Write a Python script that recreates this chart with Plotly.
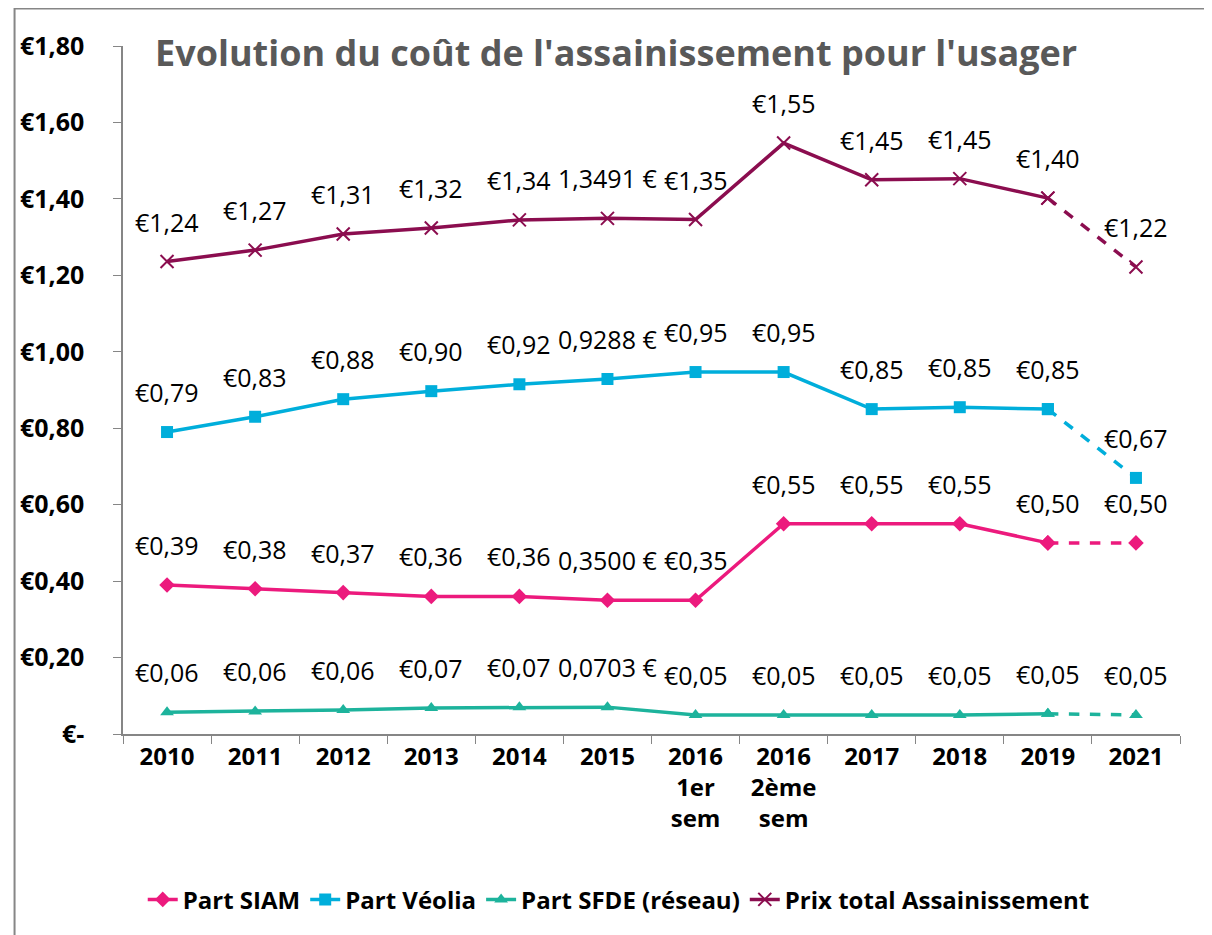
import plotly.graph_objects as go

categories = ["2010", "2011", "2012", "2013", "2014", "2015",
              "2016<br>1er<br>sem", "2016<br>2ème<br>sem", "2017", "2018", "2019", "2021"]

siam = [0.39, 0.38, 0.37, 0.36, 0.36, 0.35, 0.35, 0.55, 0.55, 0.55, 0.50, 0.50]
siam_labels = ["€0,39", "€0,38", "€0,37", "€0,36", "€0,36", "0,3500 €", "€0,35",
               "€0,55", "€0,55", "€0,55", "€0,50", "€0,50"]

veolia = [0.79, 0.83, 0.876, 0.897, 0.915, 0.9288, 0.947, 0.947, 0.85, 0.855, 0.85, 0.67]
veolia_labels = ["€0,79", "€0,83", "€0,88", "€0,90", "€0,92", "0,9288 €", "€0,95",
                 "€0,95", "€0,85", "€0,85", "€0,85", "€0,67"]

sfde = [0.057, 0.059, 0.063, 0.068, 0.07, 0.0703, 0.05, 0.05, 0.05, 0.05, 0.053, 0.05]
sfde_labels = ["€0,06", "€0,06", "€0,06", "€0,07", "€0,07", "0,0703 €", "€0,05",
               "€0,05", "€0,05", "€0,05", "€0,05", "€0,05"]

total = [1.236, 1.266, 1.308, 1.324, 1.345, 1.3491, 1.346, 1.546, 1.45, 1.453, 1.402, 1.222]
total_labels = ["€1,24", "€1,27", "€1,31", "€1,32", "€1,34", "1,3491 €", "€1,35",
                "€1,55", "€1,45", "€1,45", "€1,40", "€1,22"]

y_ticks = [0, 0.2, 0.4, 0.6, 0.8, 1.0, 1.2, 1.4, 1.6, 1.8]
y_tick_labels = ["€-", "€0,20", "€0,40", "€0,60", "€0,80", "€1,00", "€1,20", "€1,40", "€1,60", "€1,80"]

series = [
    ("Part SIAM", siam, siam_labels, "#EC1A7D", "diamond", 12),
    ("Part Véolia", veolia, veolia_labels, "#00AEDB", "square", 12),
    ("Part SFDE (réseau)", sfde, sfde_labels, "#1DB39C", "triangle-up", 12),
    ("Prix total Assainissement", total, total_labels, "#8B0D4F", "x-thin-open", 13),
]

FONT = "Open Sans"
fig = go.Figure()
annotations = []
n = len(categories)
for name, vals, labels, color, sym, msize in series:
    mline = dict(color=color, width=2) if sym.startswith("x-thin") else dict(width=0)
    fig.add_trace(go.Scatter(
        x=categories[:-1], y=vals[:-1], name=name, mode="lines+markers",
        line=dict(color=color, width=3.5),
        marker=dict(symbol=sym, size=msize, color=color, line=mline),
    ))
    fig.add_trace(go.Scatter(
        x=categories[-2:], y=vals[-2:], name=name, mode="lines+markers", showlegend=False,
        line=dict(color=color, width=3.5, dash="dash"),
        marker=dict(symbol=sym, size=msize, color=color, line=mline),
    ))
    for i, (v, t) in enumerate(zip(vals, labels)):
        annotations.append(dict(x=i, y=v, xref="x", yref="y", text=t, showarrow=False,
                                yanchor="bottom", yshift=21,
                                font=dict(family=FONT, size=25, color="black")))

annotations.append(dict(x=0.028, y=0.991, xref="paper", yref="paper", xanchor="left", yanchor="middle",
                        text="<b>Evolution du coût de l'assainissement pour l'usager</b>",
                        showarrow=False, font=dict(family=FONT, size=36, color="#595959")))

fig.update_layout(
    width=1212, height=935,
    margin=dict(l=110, r=40, t=38, b=209),
    paper_bgcolor="white", plot_bgcolor="white",
    font=dict(family=FONT, color="black"),
    annotations=annotations,
    showlegend=True,
    legend=dict(orientation="h", x=0.469, xanchor="center", y=-0.241, yanchor="middle",
                font=dict(family=FONT, size=24, color="black", weight="bold"),
                traceorder="normal"),
    shapes=[dict(type="rect", xref="paper", yref="paper", x0=-0.1026, x1=1.2, y0=-0.5, y1=1.0545,
                 line=dict(color="#868686", width=2), fillcolor="rgba(0,0,0,0)", layer="below")],
)
fig.update_xaxes(
    type="category", categoryorder="array", categoryarray=categories,
    range=[-0.5, n - 0.5], tickangle=0,
    showline=True, linecolor="#868686", linewidth=1.5,
    ticks="outside", tickson="boundaries", ticklen=8, tickcolor="#868686",
    showgrid=False, tickfont=dict(family=FONT, size=24, color="black", weight="bold"),
)
fig.update_yaxes(
    range=[0, 1.8], tickvals=y_ticks, ticktext=y_tick_labels,
    showline=True, linecolor="#868686", linewidth=1.5,
    ticks="outside", ticklen=8, tickcolor="#868686", showgrid=False, zeroline=False,
    tickfont=dict(family=FONT, size=25, color="black", weight="bold"), ticklabelstandoff=24,
)
fig.write_html("out.html")
